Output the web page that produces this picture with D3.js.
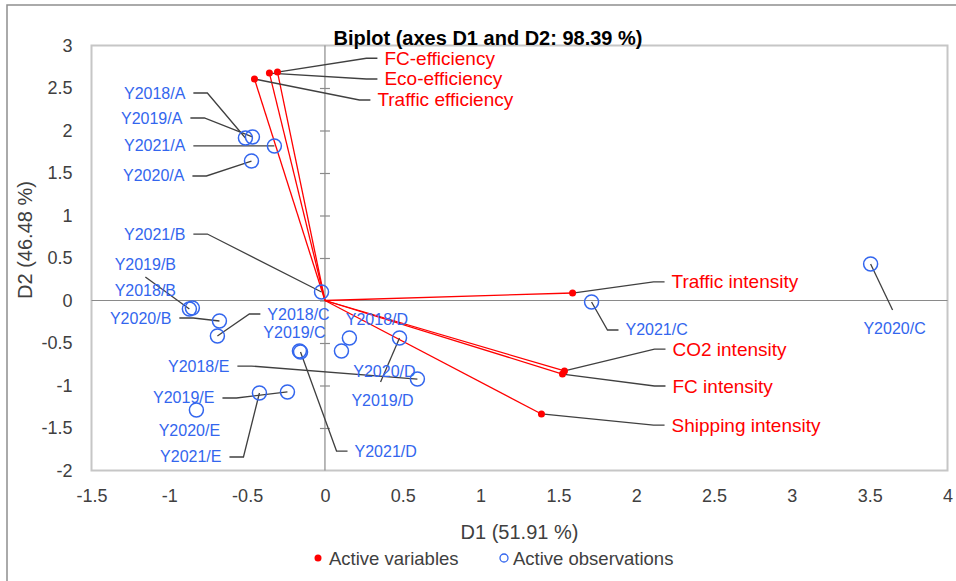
<!DOCTYPE html>
<html>
<head>
<meta charset="utf-8">
<script src="https://cdn.jsdelivr.net/npm/d3@7"></script>
<style>
  html, body { margin: 0; padding: 0; background: #fff; }
  svg { display: block; font-family: "Liberation Sans", Arial, sans-serif; }
</style>
</head>
<body>
<svg id="chart" width="956" height="581"></svg>
<script>
// Observation scores on D1 / D2
const obsNames = ["Y2018/A","Y2019/A","Y2020/A","Y2021/A",
                  "Y2018/B","Y2019/B","Y2020/B","Y2021/B",
                  "Y2018/C","Y2019/C","Y2020/C","Y2021/C",
                  "Y2018/D","Y2019/D","Y2020/D","Y2021/D",
                  "Y2018/E","Y2019/E","Y2020/E","Y2021/E"];
const obsD1 = [-0.511,-0.466,-0.472,-0.325,
               -0.852,-0.871,-0.678,-0.022,
               -0.691,-0.164, 3.506, 1.713,
                0.157, 0.479, 0.106,-0.157,
                0.594,-0.241,-0.826,-0.421];
const obsD2 = [ 1.912, 1.924, 1.641, 1.818,
               -0.088,-0.100,-0.241, 0.100,
               -0.418,-0.594, 0.429,-0.018,
               -0.441,-0.441,-0.594,-0.606,
               -0.924,-1.076,-1.288,-1.088];

// Variable loadings on D1 / D2
const varNames = ["FC-efficiency","Eco-efficiency","Traffic efficiency",
                  "Traffic intensity","CO2 intensity","FC intensity","Shipping intensity"];
const varD1 = [-0.305,-0.357,-0.453, 1.591, 1.539, 1.526, 1.391];
const varD2 = [ 2.688, 2.676, 2.606, 0.088,-0.829,-0.865,-1.335];

const xTicks = [-1.5,-1,-0.5,0,0.5,1,1.5,2,2.5,3,3.5,4];
const yTicks = [-2,-1.5,-1,-0.5,0,0.5,1,1.5,2,2.5,3];

const titleText = "Biplot (axes D1 and D2: 98.39 %)";
const xTitle = "D1 (51.91 %)";
const yTitle = "D2 (46.48 %)";
const legendItems = ["Active variables","Active observations"];

// Label placement (in D1/D2 units) and leader style
const labelLayout = {
  "Y2018/A": {lx:-0.897, ly: 2.441, type:"left"},
  "Y2019/A": {lx:-0.916, ly: 2.147, type:"left"},
  "Y2021/A": {lx:-0.897, ly: 1.818, type:"left"},
  "Y2020/A": {lx:-0.903, ly: 1.465, type:"left"},
  "Y2021/B": {lx:-0.897, ly: 0.782, type:"left"},
  "Y2019/B": {lx:-1.154, ly: 0.429, type:"below"},
  "Y2018/B": {lx:-1.154, ly: 0.112, type:"none"},
  "Y2020/B": {lx:-0.987, ly:-0.206, type:"left"},
  "Y2018/C": {lx:-0.370, ly:-0.159, type:"right"},
  "Y2019/C": {lx:-0.196, ly:-0.371, type:"none"},
  "Y2018/D": {lx: 0.334, ly:-0.229, type:"none"},
  "Y2020/D": {lx: 0.382, ly:-0.841, type:"none"},
  "Y2019/D": {lx: 0.370, ly:-1.171, type:"above"},
  "Y2018/E": {lx:-0.614, ly:-0.771, type:"left"},
  "Y2019/E": {lx:-0.710, ly:-1.147, type:"left"},
  "Y2020/E": {lx:-0.871, ly:-1.535, type:"none"},
  "Y2021/E": {lx:-0.665, ly:-1.841, type:"left"},
  "Y2021/D": {lx: 0.190, ly:-1.771, type:"right"},
  "Y2021/C": {lx: 1.931, ly:-0.347, type:"right"},
  "Y2020/C": {lx: 3.660, ly:-0.324, type:"above"},
  "FC-efficiency":      {lx:0.382, ly: 2.850, type:"right"},
  "Eco-efficiency":     {lx:0.382, ly: 2.606, type:"right"},
  "Traffic efficiency": {lx:0.337, ly: 2.359, type:"right"},
  "Traffic intensity":  {lx:2.227, ly: 0.218, type:"right"},
  "CO2 intensity":      {lx:2.233, ly:-0.571, type:"right"},
  "FC intensity":       {lx:2.233, ly:-1.006, type:"right"},
  "Shipping intensity": {lx:2.227, ly:-1.465, type:"right"}
};

const BLUE = "#3366ee", RED = "#ff0000", LEADER = "#404040", TXT = "#404040";

const svg = d3.select("#chart");
const plot = {left: 91.5, right: 947.5, top: 45.5, bottom: 470.5};

const x = d3.scaleLinear().domain([-1.5, 4]).range([plot.left, plot.right]);
const y = d3.scaleLinear().domain([-2, 3]).range([plot.bottom, plot.top]);

// outer chart border (top and left edges)
svg.append("path")
  .attr("d", `M7,581 L7,5 L956,5`)
  .attr("fill", "none").attr("stroke", "#8f8f8f").attr("stroke-width", 1.5);

// plot frame
svg.append("rect")
  .attr("x", plot.left).attr("y", plot.top)
  .attr("width", plot.right - plot.left).attr("height", plot.bottom - plot.top)
  .attr("fill", "none").attr("stroke", "#c6c6c6").attr("stroke-width", 2);

// zero lines
svg.append("line").attr("x1", plot.left).attr("x2", plot.right)
  .attr("y1", y(0)).attr("y2", y(0)).attr("stroke", "#8a8a8a").attr("stroke-width", 1.2);
svg.append("line").attr("x1", x(0)).attr("x2", x(0))
  .attr("y1", plot.top).attr("y2", plot.bottom).attr("stroke", "#8a8a8a").attr("stroke-width", 1.2);

// cross tick marks on the vertical zero axis
const yAxisG = svg.append("g").attr("transform", `translate(${x(0) + 5},0)`)
  .call(d3.axisLeft(y).tickValues(yTicks.filter(t => t > -2 && t < 3)).tickSize(10).tickFormat(""));
yAxisG.select(".domain").remove();
yAxisG.selectAll(".tick line").attr("stroke", "#8a8a8a").attr("stroke-width", 1.2);

// tick labels
const fmt = d => String(d);
const xLab = svg.append("g").attr("transform", `translate(0,${plot.bottom})`)
  .call(d3.axisBottom(x).tickValues(xTicks).tickSize(0).tickPadding(19).tickFormat(fmt));
xLab.select(".domain").remove();
xLab.selectAll("text").attr("font-size", 18).attr("fill", TXT)
  .attr("font-family", "Liberation Sans, Arial, sans-serif");

const yLab = svg.append("g").attr("transform", `translate(${plot.left},0)`)
  .call(d3.axisLeft(y).tickValues(yTicks).tickSize(0).tickPadding(19).tickFormat(fmt));
yLab.select(".domain").remove();
yLab.selectAll("text").attr("font-size", 18).attr("fill", TXT)
  .attr("font-family", "Liberation Sans, Arial, sans-serif");

// axis titles
svg.append("text").attr("x", (plot.left + plot.right) / 2).attr("y", 532)
  .attr("text-anchor", "middle").attr("dominant-baseline", "central")
  .attr("font-size", 20).attr("fill", TXT).text(xTitle);
svg.append("text").attr("transform", `translate(25,${(plot.top + plot.bottom) / 2 - 18}) rotate(-90)`)
  .attr("text-anchor", "middle").attr("dominant-baseline", "central")
  .attr("font-size", 20).attr("fill", TXT).text(yTitle);

// variable vectors
const vars = varNames.map((n, i) => ({name: n, d1: varD1[i], d2: varD2[i], kind: "var"}));
const obs = obsNames.map((n, i) => ({name: n, d1: obsD1[i], d2: obsD2[i], kind: "obs"}));

svg.append("g").selectAll("line").data(vars).join("line")
  .attr("x1", x(0)).attr("y1", y(0))
  .attr("x2", d => x(d.d1)).attr("y2", d => y(d.d2))
  .attr("stroke", RED).attr("stroke-width", 1.3);

// leader lines
function leaderPoints(d) {
  const L = labelLayout[d.name];
  const px = x(d.d1), py = y(d.d2);
  const tx = x(L.lx), ty = y(L.ly);
  switch (L.type) {
    case "left":  return [[px, py], [tx + 22, ty], [tx + 8, ty]];
    case "right": return [[px, py], [tx - 18, ty], [tx - 7, ty]];
    case "below": return [[px, py], [tx, ty + 13]];
    case "above": return [[px, py], [tx - 2, ty - 18]];
    default: return null;
  }
}
const all = obs.concat(vars);
svg.append("g").selectAll("path").data(all.filter(d => leaderPoints(d))).join("path")
  .attr("d", d => d3.line()(leaderPoints(d)))
  .attr("fill", "none").attr("stroke", LEADER).attr("stroke-width", 1.3);

// observations
svg.append("g").selectAll("circle").data(obs).join("circle")
  .attr("cx", d => x(d.d1)).attr("cy", d => y(d.d2)).attr("r", 7)
  .attr("fill", "none").attr("stroke", BLUE).attr("stroke-width", 1.5);

// variables
svg.append("g").selectAll("circle").data(vars).join("circle")
  .attr("cx", d => x(d.d1)).attr("cy", d => y(d.d2)).attr("r", 3.5)
  .attr("fill", RED);

// point labels
svg.append("g").selectAll("text").data(all).join("text")
  .attr("x", d => x(labelLayout[d.name].lx))
  .attr("y", d => y(labelLayout[d.name].ly))
  .attr("text-anchor", d => {
    const t = labelLayout[d.name].type;
    return t === "left" ? "end" : t === "right" ? "start" : "middle";
  })
  .attr("dominant-baseline", "central")
  .attr("font-size", d => d.kind === "var" ? 19 : 16)
  .attr("fill", d => d.kind === "var" ? RED : BLUE)
  .text(d => d.name);

// title
svg.append("text").attr("x", 488).attr("y", 38)
  .attr("text-anchor", "middle").attr("dominant-baseline", "central")
  .attr("font-size", 20).attr("font-weight", "bold").attr("fill", "#000")
  .text(titleText);

// legend
const lg = svg.append("g");
lg.append("circle").attr("cx", 318).attr("cy", 558).attr("r", 3.5).attr("fill", RED);
lg.append("text").attr("x", 329).attr("y", 558).attr("dominant-baseline", "central")
  .attr("font-size", 18.5).attr("fill", TXT).text(legendItems[0]);
lg.append("circle").attr("cx", 504).attr("cy", 558).attr("r", 4)
  .attr("fill", "none").attr("stroke", BLUE).attr("stroke-width", 1.3);
lg.append("text").attr("x", 513).attr("y", 558).attr("dominant-baseline", "central")
  .attr("font-size", 18.5).attr("fill", TXT).text(legendItems[1]);
</script>
</body>
</html>
